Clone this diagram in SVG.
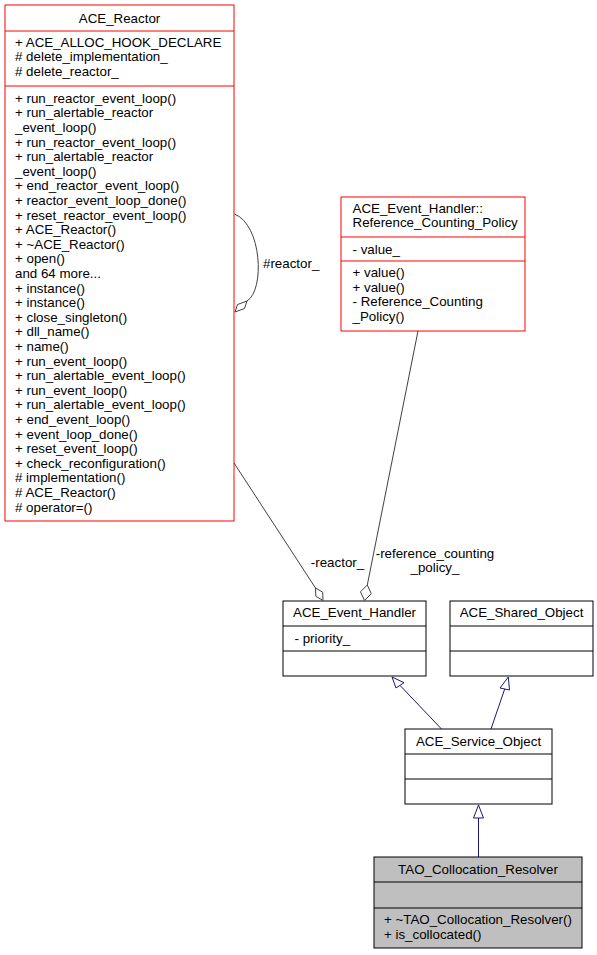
<svg xmlns="http://www.w3.org/2000/svg" width="597" height="955" viewBox="0 0 597 955">
<style>
text{font-family:"Liberation Sans",Arial,sans-serif;font-size:13.33px;fill:#000}
.t{text-anchor:middle}
.red{fill:#fff;stroke:#ff0000;stroke-width:1}
.redl{stroke:#ff0000;stroke-width:1}
.blk{fill:#fff;stroke:#000;stroke-width:1}
.blkl{stroke:#000;stroke-width:1}
.assoc{fill:none;stroke:#404040;stroke-width:1}
.dia{fill:#fff;stroke:#404040;stroke-width:1}
.inh{fill:none;stroke:#191970;stroke-width:1}
.ahead{fill:#fff;stroke:#191970;stroke-width:1}
</style>
<rect width="597" height="955" fill="#fff"/>
<g id="node_ACE_Reactor">
<rect class="red" x="5" y="5" width="229" height="516"/>
<line class="redl" x1="5" y1="31" x2="234" y2="31"/>
<line class="redl" x1="5" y1="86" x2="234" y2="86"/>
<text class="t" x="119.5" y="22.5">ACE_Reactor</text>
<text x="15" y="46.8">+ ACE_ALLOC_HOOK_DECLARE</text>
<text x="15" y="61.4"># delete_implementation_</text>
<text x="15" y="76"># delete_reactor_</text>
<text x="15" y="102.7">+ run_reactor_event_loop()</text>
<text x="15" y="117.3">+ run_alertable_reactor</text>
<text x="15" y="131.9">_event_loop()</text>
<text x="15" y="146.5">+ run_reactor_event_loop()</text>
<text x="15" y="161.1">+ run_alertable_reactor</text>
<text x="15" y="175.7">_event_loop()</text>
<text x="15" y="190.3">+ end_reactor_event_loop()</text>
<text x="15" y="204.9">+ reactor_event_loop_done()</text>
<text x="15" y="219.5">+ reset_reactor_event_loop()</text>
<text x="15" y="234.1">+ ACE_Reactor()</text>
<text x="15" y="248.7">+ ~ACE_Reactor()</text>
<text x="15" y="263.3">+ open()</text>
<text x="15" y="277.9">and 64 more...</text>
<text x="15" y="292.5">+ instance()</text>
<text x="15" y="307.1">+ instance()</text>
<text x="15" y="321.7">+ close_singleton()</text>
<text x="15" y="336.3">+ dll_name()</text>
<text x="15" y="350.9">+ name()</text>
<text x="15" y="365.5">+ run_event_loop()</text>
<text x="15" y="380.1">+ run_alertable_event_loop()</text>
<text x="15" y="394.7">+ run_event_loop()</text>
<text x="15" y="409.3">+ run_alertable_event_loop()</text>
<text x="15" y="423.9">+ end_event_loop()</text>
<text x="15" y="438.5">+ event_loop_done()</text>
<text x="15" y="453.1">+ reset_event_loop()</text>
<text x="15" y="467.7">+ check_reconfiguration()</text>
<text x="15" y="482.3"># implementation()</text>
<text x="15" y="496.9"># ACE_Reactor()</text>
<text x="15" y="511.5"># operator=()</text>
</g>
<g id="node_Reference_Counting_Policy">
<rect class="red" x="341" y="197" width="184" height="134"/>
<line class="redl" x1="341" y1="237" x2="525" y2="237"/>
<line class="redl" x1="341" y1="261" x2="525" y2="261"/>
<text x="352.5" y="212.8">ACE_Event_Handler::</text>
<text x="352.5" y="227.4">Reference_Counting_Policy</text>
<text x="352.5" y="253.5">- value_</text>
<text x="352.5" y="277">+ value()</text>
<text x="352.5" y="291.6">+ value()</text>
<text x="352.5" y="306.2">- Reference_Counting</text>
<text x="352.5" y="320.8">_Policy()</text>
</g>
<g id="node_ACE_Event_Handler">
<rect class="blk" x="283" y="601" width="143" height="75"/>
<line class="blkl" x1="283" y1="626" x2="426" y2="626"/>
<line class="blkl" x1="283" y1="651" x2="426" y2="651"/>
<text class="t" x="354.5" y="617">ACE_Event_Handler</text>
<text x="294.5" y="642.5">- priority_</text>
</g>
<g id="node_ACE_Shared_Object">
<rect class="blk" x="450" y="601" width="143" height="75"/>
<line class="blkl" x1="450" y1="626" x2="593" y2="626"/>
<line class="blkl" x1="450" y1="651" x2="593" y2="651"/>
<text class="t" x="521.5" y="617">ACE_Shared_Object</text>
</g>
<g id="node_ACE_Service_Object">
<rect class="blk" x="405" y="729" width="147" height="75"/>
<line class="blkl" x1="405" y1="754" x2="552" y2="754"/>
<line class="blkl" x1="405" y1="779" x2="552" y2="779"/>
<text class="t" x="478.5" y="745.5">ACE_Service_Object</text>
</g>
<g id="node_TAO_Collocation_Resolver">
<rect x="374" y="857" width="208" height="91" fill="#bfbfbf" stroke="#000" stroke-width="1"/>
<line class="blkl" x1="374" y1="882" x2="582" y2="882"/>
<line class="blkl" x1="374" y1="908" x2="582" y2="908"/>
<text class="t" x="478" y="873.5">TAO_Collocation_Resolver</text>
<text x="384" y="924.3">+ ~TAO_Collocation_Resolver()</text>
<text x="384" y="938.9">+ is_collocated()</text>
</g>
<g id="connectors">
<path class="assoc" d="M234.5,214 C262,225 265,290 247,301"/>
<polygon class="dia" points="247,301 244.5,308.5 235,312 237.5,304.5"/>
<text x="263" y="267.5">#reactor_</text>
<path class="assoc" d="M234,463 L315.5,588"/>
<polygon class="dia" points="315.5,588 322.7,592.2 323,600.5 315.8,596.3"/>
<text class="t" x="337.5" y="566.5">-reactor_</text>
<path class="assoc" d="M418,331 L367.3,585"/>
<polygon class="dia" points="367.3,585 371.3,593.7 364.5,600.5 360.5,591.8"/>
<text class="t" x="435" y="557.5">-reference_counting</text>
<text class="t" x="435" y="572">_policy_</text>
<path class="inh" d="M441.5,729 L400,685.4"/>
<polygon class="ahead" points="392,677 404,682.7 396,688"/>
<path class="inh" d="M491,729 L504.7,689"/>
<polygon class="ahead" points="508.3,677 509.5,690 500,688"/>
<path class="inh" d="M478.5,857 L478.5,818"/>
<polygon class="ahead" points="478.5,805 483.5,818 473.5,818"/>
</g>
</svg>
